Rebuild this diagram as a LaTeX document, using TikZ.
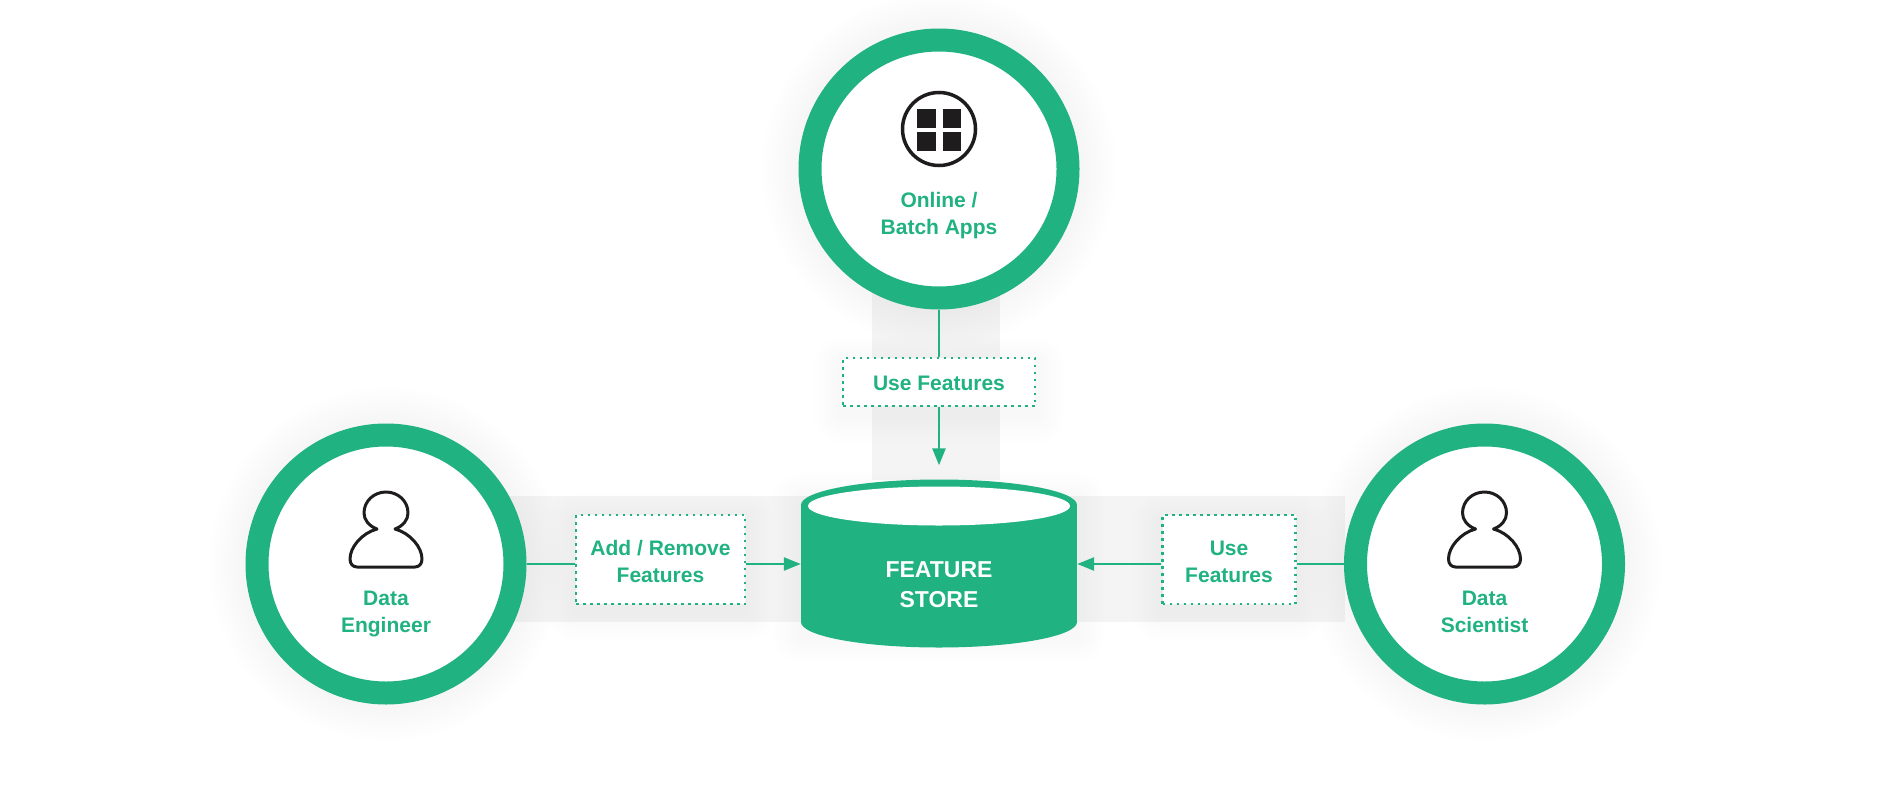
\documentclass[tikz,border=0pt]{standalone}
\usepackage{fontspec}
\setmainfont{Liberation Sans}
\usetikzlibrary{arrows.meta, backgrounds, shapes.geometric}
\definecolor{storegreen}{HTML}{20B280}
\definecolor{icondark}{HTML}{1F1C1D}
\tikzset{>={Triangle[width=13pt,length=17pt]}}
\tikzset{
  person/.pic={
    \draw[icondark, line width=3pt, line join=round]
      (-9,2) .. controls (-17,-1) and (-22,-7) .. (-22,-14)
      .. controls (-22,-26) and (-12,-35) .. (0,-35)
      .. controls (12,-35) and (22,-26) .. (22,-14)
      .. controls (22,-7) and (17,-1) .. (9,2)
      .. controls (24,6) and (36,20) .. (36,32)
      .. controls (36,37) and (33,40) .. (29,40)
      -- (-29,40)
      .. controls (-33,40) and (-36,37) .. (-36,32)
      .. controls (-36,20) and (-24,6) .. (-9,2) -- cycle;
  }
}

\begin{document}
\begin{tikzpicture}[
    x = 1pt, y = -1pt,
    ring/.style = {circle, draw=storegreen, fill=white, line width=23pt,
        minimum size=258pt, inner sep=0pt},
    caption/.style = {text=storegreen, align=center, inner sep=0pt,
        font=\bfseries\fontsize{21}{27}\selectfont},
    tagbox/.style = {draw=storegreen, fill=white, line width=2.5pt,
        dash pattern=on 2.5pt off 4.5pt, inner sep=0pt, text=storegreen, align=center,
        font=\bfseries\fontsize{21}{27}\selectfont},
    link/.style = {draw=storegreen, line width=2.5pt},
    band/.style = {fill=black!4.5},
    softshade/.style = {fill=black, opacity=0.004}
  ]
  \useasboundingbox (0,0) rectangle (1884,800);

  % the three users
  \node[ring] (apps) at (939,169) {};
  \node[ring] (engineer) at (386,564) {};
  \node[ring] (scientist) at (1484.5,564) {};
  \node[caption] (appslabel) at (939,216) {Online /\\Batch Apps};
  \node[caption] (engineerlabel) at (386,613.5) {Data\\Engineer};
  \node[caption] (scientistlabel) at (1484.5,611.5) {Data\\Scientist};

  \pic at (386,527) {person};
  \pic at (1484.5,527) {person};

  % grid icon
  \node[circle, draw=icondark, line width=3.5pt, minimum size=73pt, inner sep=0pt]
    (gridicon) at (939,129) {};
  \foreach \gx in {917,942.5}
    \foreach \gy in {109,132}
      \fill[icondark] (\gx,\gy) rectangle +(18.5,18.5);

  % store
  \foreach \ey in {505,622}
    \fill[storegreen] (939,\ey) ellipse (138 and 25.5);
  \node[fill=storegreen, inner sep=0pt, minimum width=276pt, minimum height=117pt] (store) at (939,563.5) {};
  \node[ellipse, fill=white, minimum width=262pt, minimum height=39pt, inner sep=0pt]
    (storetop) at (939,506) {};
  \node[text=white, align=center, inner sep=0pt, font=\bfseries\fontsize{23}{30}\selectfont]
    (storelabel) at (939,584.5) {FEATURE\\STORE};

  % tags
  \node[tagbox, minimum width=192pt, minimum height=48pt] (usetop) at (939,382) {\rule{0pt}{17.5pt}Use Features};
  \node[tagbox, minimum width=169pt, minimum height=89pt] (addtag) at (660.5,559.5) {\rule{0pt}{20pt}Add / Remove\\Features};
  \node[tagbox, minimum width=133pt, minimum height=89pt] (usetag) at (1229,559.5) {\rule{0pt}{20pt}Use\\Features};

  % connectors
  \draw[link] (apps) -- (usetop);
  \draw[link, ->, shorten >=21pt] (usetop) -- (storetop.north);
  \draw[link] (engineer) -- (engineer -| addtag.west);
  \draw[link, ->] (engineer -| addtag.east) -- (engineer -| store.west);
  \draw[link] (scientist) -- (scientist -| usetag.east);
  \draw[link, ->] (scientist -| usetag.west) -- (scientist -| store.east);

  % grey bands and soft shadows
  \begin{pgfonlayer}{background}
    \fill[band] (872,290) rectangle (1000,480);
    \fill[band] (497,496) rectangle (1345,622);
    \foreach \s in {4,8,...,36} {
      \fill[softshade] (apps) circle ({141+\s});
      \fill[softshade] (engineer) circle ({141+\s});
      \fill[softshade] (scientist) circle ({141+\s});
    }
    \foreach \s in {4,8,...,28} {
      \foreach \tag in {usetop,addtag,usetag}
        \fill[softshade, opacity=0.005, rounded corners=\s]
          ([shift={({-\s},{8-\s})}]\tag.north west) rectangle ([shift={(\s,{8+\s})}]\tag.south east);
      \fill[softshade, opacity=0.005, rounded corners=\s]
        ([shift={({-\s},{-\s})}]801,500) rectangle ([shift={(\s,\s)}]1077,635);
    }
  \end{pgfonlayer}
\end{tikzpicture}
\end{document}
